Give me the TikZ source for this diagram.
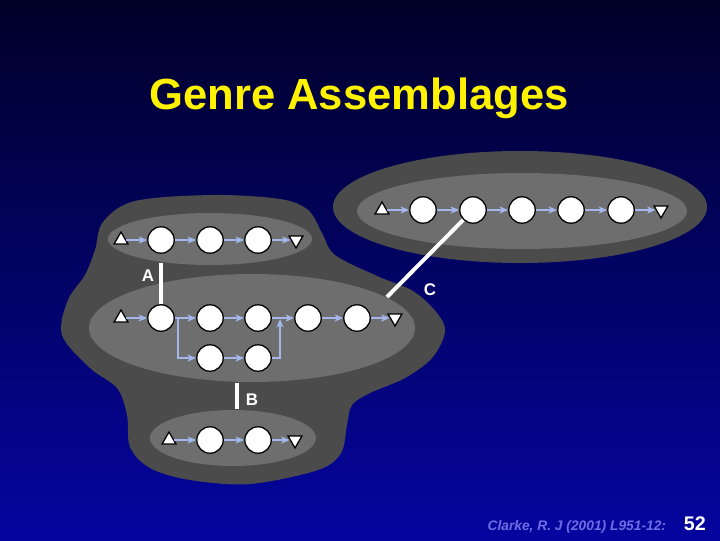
\documentclass[tikz,border=0pt]{standalone}
\usepackage{fontspec}
\setmainfont{Liberation Sans}
\usetikzlibrary{shapes.geometric,arrows.meta}
\definecolor{bgtop}{HTML}{000028}
\definecolor{bgbot}{HTML}{0505A0}
\definecolor{darkblob}{HTML}{4B4B4B}
\definecolor{lightblob}{HTML}{6E6E6E}
\definecolor{arrblue}{HTML}{A4B6EA}
\definecolor{refblue}{HTML}{6E6EE4}
\tikzset{
  stage/.style={circle,draw=black,fill=white,line width=0.9pt,minimum size=0.66cm,inner sep=0pt},
  starttri/.style={regular polygon,regular polygon sides=3,draw=black,fill=white,line width=0.9pt,minimum size=0.4cm,inner sep=0pt},
  endtri/.style={starttri,shape border rotate=180},
  arr/.style={draw=arrblue,line width=1pt,-{Stealth[length=6pt,width=5pt,inset=1.5pt]}},
  link/.style={draw=white,line width=2.8pt},
  lab/.style={text=white,font=\bfseries\fontsize{12}{14}\selectfont,inner sep=0pt}
}
\begin{document}
\begin{tikzpicture}[x=0.025cm,y=-0.025cm]
\shade[top color=bgtop,bottom color=bgbot] (0,0) rectangle (720,540);
\useasboundingbox (0,0) rectangle (720,540);
% title
\node[text=yellow,font=\bfseries\fontsize{31}{36}\selectfont] (title) at (359,98) {Genre Assemblages};
% top-right assemblage
\fill[darkblob] (520,207) ellipse [x radius=187,y radius=56];
\fill[lightblob] (522,211) ellipse [x radius=165,y radius=38];
% left blob
\fill[darkblob] plot[smooth cycle,tension=0.55] coordinates {
 (213,195) (280,199) (308,210) (322,233) (335,255) (377,276) (413,291)
 (437,313) (445,332) (432,358) (405,378) (370,393) (352,405) (347,425)
 (341,453) (318,470) (250,484) (190,480) (150,468) (130,447) (127,415)
 (117,388) (90,368) (62,335) (68,300) (85,275) (95,250) (103,222) (135,201)};
\fill[lightblob] (210,239) ellipse [x radius=102,y radius=26];
\fill[lightblob] (252,328) ellipse [x radius=163,y radius=54];
\fill[lightblob] (233,438) ellipse [x radius=83,y radius=28];
% top-right nodes
\node[starttri] (r0) at (382,210) {};
\node[stage] (r1) at (423,210) {};
\node[stage] (r2) at (473,210) {};
\node[stage] (r3) at (522,210) {};
\node[stage] (r4) at (571,210) {};
\node[stage] (r5) at (621,210) {};
\node[endtri] (r6) at (661,210) {};
% top-left nodes
\node[starttri] (t0) at (121,240) {};
\node[stage] (t1) at (161,240) {};
\node[stage] (t2) at (210,240) {};
\node[stage] (t3) at (258,240) {};
\node[endtri] (t4) at (296,240) {};
% middle nodes
\node[starttri] (m0) at (121,318) {};
\node[stage] (m1) at (161,318) {};
\node[stage] (m2) at (210,318) {};
\node[stage] (m3) at (258,318) {};
\node[stage] (m4) at (308,318) {};
\node[stage] (m5) at (357,318) {};
\node[endtri] (m6) at (395,318) {};
\node[stage] (m7) at (210,358) {};
\node[stage] (m8) at (258,358) {};
\coordinate (b1) at (178,318);
\coordinate (b2) at (280,319);
% bottom nodes
\node[starttri] (u0) at (169,440) {};
\node[stage] (u1) at (210,440) {};
\node[stage] (u2) at (258,440) {};
\node[endtri] (u3) at (295,440) {};
% arrows
\foreach \a/\b in {r0/r1,r1/r2,r2/r3,r3/r4,r4/r5,r5/r6,
                   t0/t1,t1/t2,t2/t3,t3/t4,
                   m0/m1,m1/m2,m2/m3,m3/m4,m4/m5,m5/m6,m7/m8,
                   u0/u1,u1/u2,u2/u3}
  \draw[arr] (\a) -- (\b);
\draw[arr] (b1) |- (m7);
\draw[arr] (m8) -| (b2);
% links
\coordinate (aT) at (161,263);
\coordinate (bT) at (237,383);
\coordinate (bB) at (237,409);
\coordinate (cB) at (387,297);
\draw[link] (aT) -- (m1);
\draw[link] (bT) -- (bB);
\draw[link] (r2) -- (cB);
\node[lab] (la) at (148,276) {A};
\node[lab] (lb) at (252,400) {B};
\node[lab] (lc) at (430,290) {C};
% footer
\node[text=refblue,font=\bfseries\itshape\fontsize{9.8}{12}\selectfont,anchor=base east] (ref) at (671,530) {Clarke, R. J (2001) L951-12:};
\node[text=white,font=\bfseries\fontsize{14}{16}\selectfont,anchor=base west] (num) at (679,530) {52};
\end{tikzpicture}
\end{document}
